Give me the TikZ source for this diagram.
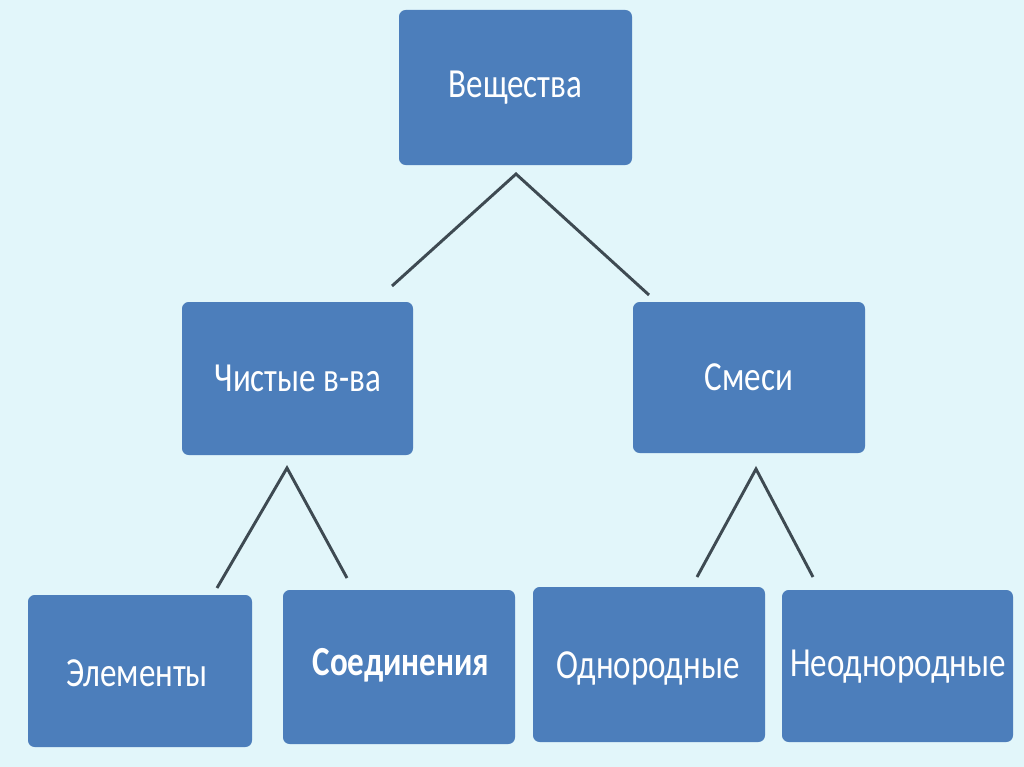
\documentclass[tikz,border=0pt]{standalone}
\usepackage{fontspec}
\setmainfont{Carlito}
\definecolor{bg}{HTML}{E2F6FA}
\definecolor{boxblue}{HTML}{4C7EBB}
\definecolor{linegray}{HTML}{3E4A52}
\tikzset{
  px/.style={x=0.75pt,y=-0.75pt},
  box/.style={draw=none,fill=boxblue,rounded corners=5pt},
  lbl/.style={inner sep=0pt,text=white,font=\fontsize{31}{36}\selectfont},
  conn/.style={draw=linegray,line width=2.2pt}
}
\newcommand{\sq}[1]{\scalebox{0.8}[1]{#1}}
\begin{document}
\begin{tikzpicture}[px]
\fill[bg] (0,0) rectangle (1024,767);
\useasboundingbox (0,0) rectangle (1024,767);
% boxes
\path[box] (399,10) rectangle (632,165);
\node[lbl] (sub) at (515.5,87.5) {\sq{Вещества}};
\path[box] (182,302) rectangle (413,455);
\node[lbl] (pure) at (298,378.5) {\sq{Чистые в-ва}};
\path[box] (633,302) rectangle (865,453);
\node[lbl] (mix) at (749,377.5) {\sq{Смеси}};
\path[box] (28,595) rectangle (252,747);
\node[lbl] (el) at (137,673) {\sq{Элементы}};
\path[box] (283,590) rectangle (515,744);
\node[lbl] (comp) at (401,665) {\sq{\bfseries Соединения}};
\path[box] (533,587) rectangle (765,742);
\node[lbl] (hom) at (648,668) {\sq{Однородные}};
\path[box] (782,590) rectangle (1013,742);
\node[lbl] (het) at (898,667) {\sq{Неоднородные}};
% connector points
\coordinate (a0) at (516,174);
\coordinate (l0) at (392,286);
\coordinate (r0) at (649,295);
\coordinate (a1) at (287,468);
\coordinate (l1) at (217,588);
\coordinate (r1) at (347,578);
\coordinate (a2) at (756,469);
\coordinate (l2) at (697,577);
\coordinate (r2) at (813,577);
\draw[conn] (l0) -- (a0) -- (r0);
\draw[conn] (l1) -- (a1) -- (r1);
\draw[conn] (l2) -- (a2) -- (r2);
\end{tikzpicture}
\end{document}
